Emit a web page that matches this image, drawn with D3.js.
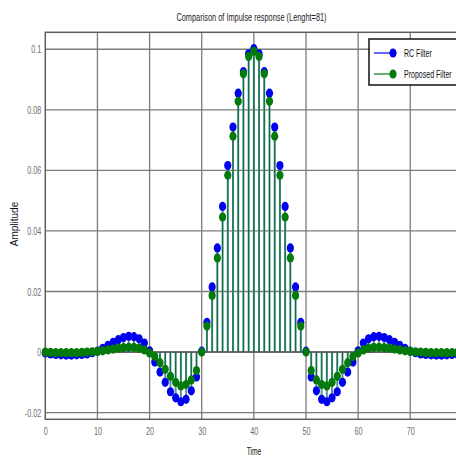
<!DOCTYPE html>
<html>
<head>
<meta charset="utf-8">
<script src="https://cdn.jsdelivr.net/npm/d3@7"></script>
<style>
  html, body { margin: 0; padding: 0; background: #fff; }
  svg { display: block; }
</style>
</head>
<body>
<svg id="chart" width="456" height="456"></svg>
<script>
// Sample index n = 0 .. 80 (filter length 81)
const samples = d3.range(0, 81);

// Raised-cosine filter impulse response
const rcFilter = [
  -0.0003, -0.0006, -0.0008, -0.0009, -0.0010, -0.0010, -0.0009, -0.0008, -0.0006, -0.0002,
   0.0003,  0.0012,  0.0022,  0.0032,  0.0041,  0.0048,  0.0052,  0.0051,  0.0044,  0.0030,
   0.0004, -0.0033, -0.0066, -0.0100, -0.0131, -0.0151, -0.0164, -0.0156, -0.0128, -0.0082,
   0.0003,  0.0098,  0.0215,  0.0344,  0.0481,  0.0616,  0.0743,  0.0855,  0.0926,  0.0985,
   0.1002,
   0.0985,  0.0926,  0.0855,  0.0743,  0.0616,  0.0481,  0.0344,  0.0215,  0.0098,  0.0003,
  -0.0082, -0.0128, -0.0156, -0.0164, -0.0151, -0.0131, -0.0100, -0.0066, -0.0033,  0.0004,
   0.0030,  0.0044,  0.0051,  0.0052,  0.0048,  0.0041,  0.0032,  0.0022,  0.0012,  0.0003,
  -0.0002, -0.0006, -0.0008, -0.0009, -0.0010, -0.0010, -0.0009, -0.0008, -0.0006, -0.0003
];

// Proposed filter impulse response
const proposedFilter = [
   0.0000, -0.0001, -0.0002, -0.0002, -0.0002, -0.0002, -0.0002, -0.0001,  0.0000,  0.0001,
   0.0002,  0.0004,  0.0007,  0.0010,  0.0013,  0.0015,  0.0016,  0.0016,  0.0013,  0.0007,
  -0.0003, -0.0015, -0.0035, -0.0057, -0.0080, -0.0100, -0.0112, -0.0107, -0.0092, -0.0061,
   0.0000,  0.0086,  0.0187,  0.0311,  0.0446,  0.0584,  0.0713,  0.0828,  0.0919,  0.0976,
   0.0993,
   0.0976,  0.0919,  0.0828,  0.0713,  0.0584,  0.0446,  0.0311,  0.0187,  0.0086,  0.0000,
  -0.0061, -0.0092, -0.0107, -0.0112, -0.0100, -0.0080, -0.0057, -0.0035, -0.0015, -0.0003,
   0.0007,  0.0013,  0.0016,  0.0016,  0.0015,  0.0013,  0.0010,  0.0007,  0.0004,  0.0002,
   0.0001,  0.0000, -0.0001, -0.0002, -0.0002, -0.0002, -0.0002, -0.0002, -0.0001,  0.0000
];

const xTicks = [0, 10, 20, 30, 40, 50, 60, 70];
const yTicks = [-0.02, 0, 0.02, 0.04, 0.06, 0.08, 0.1];
const seriesNames = ["RC Filter", "Proposed Filter"];

const titleText = "Comparison of Impulse response (Lenght=81)";
const xLabel = "Time";
const yLabel = "Amplitude";

const sans = "'Liberation Sans', Arial, sans-serif";

// Squeeze tick text horizontally to a condensed face
function condense(sel, factor) {
  sel.each(function () {
    const w = this.getComputedTextLength();
    d3.select(this).attr("textLength", (w * factor).toFixed(1))
      .attr("lengthAdjust", "spacingAndGlyphs");
  });
}

// Free-standing condensed label, anchored at (px, py)
function narrowText(parent, px, py, str, size, factor, anchor, color) {
  return parent.append("text")
    .attr("transform", `translate(${px},${py}) scale(${factor},1)`)
    .attr("text-anchor", anchor)
    .style("font-family", sans).style("font-size", size + "px")
    .attr("fill", color).text(str);
}

const svg = d3.select("#chart");
const plot = { left: 45.3, right: 462.4, top: 32.3, bottom: 419.3 };

const x = d3.scaleLinear().domain([0, 80]).range([plot.left, plot.right]);
const y = d3.scaleLinear().domain([-0.0222, 0.1056]).range([plot.bottom, plot.top]);

// Grid lines
const grid = svg.append("g");
grid.selectAll("line.gx").data(xTicks.filter(d => d > 0)).join("line")
  .attr("x1", d => x(d)).attr("x2", d => x(d))
  .attr("y1", plot.top).attr("y2", plot.bottom)
  .attr("stroke", "#7c7c7c").attr("stroke-width", 1.3);
grid.selectAll("line.gy").data(yTicks).join("line")
  .attr("x1", plot.left).attr("x2", plot.right)
  .attr("y1", d => y(d)).attr("y2", d => y(d))
  .attr("stroke", "#7c7c7c").attr("stroke-width", 1.3);

// Axes frame
svg.append("rect")
  .attr("x", plot.left).attr("y", plot.top)
  .attr("width", plot.right - plot.left).attr("height", plot.bottom - plot.top)
  .attr("fill", "none").attr("stroke", "#5e5e5e").attr("stroke-width", 1.5);

// Tick labels via d3 axes
const yAxis = svg.append("g")
  .attr("transform", `translate(${plot.left},0)`)
  .call(d3.axisLeft(y).tickValues(yTicks).tickSize(0).tickPadding(4)
        .tickFormat(d => String(+d.toFixed(2))));
const xAxis = svg.append("g")
  .attr("transform", `translate(0,${plot.bottom})`)
  .call(d3.axisBottom(x).tickValues(xTicks).tickSize(0).tickPadding(8)
        .tickFormat(d3.format("d")));
[yAxis, xAxis].forEach(a => {
  a.select(".domain").remove();
  a.selectAll("text").attr("fill", "#6e6e6e")
    .style("font-family", sans).style("font-size", "11px")
    .call(condense, 0.66);
});

// Stems
const stems = svg.append("g");
stems.selectAll("line.rc").data(samples).join("line")
  .attr("x1", d => x(d)).attr("x2", d => x(d))
  .attr("y1", y(0)).attr("y2", d => y(rcFilter[d]))
  .attr("stroke", "#5f929c").attr("stroke-width", 2);
stems.selectAll("line.pf").data(samples).join("line")
  .attr("x1", d => x(d)).attr("x2", d => x(d))
  .attr("y1", y(0)).attr("y2", d => y(proposedFilter[d]))
  .attr("stroke", "#06703a").attr("stroke-width", 1.1);

// Baseline
svg.append("line")
  .attr("x1", plot.left).attr("x2", plot.right)
  .attr("y1", y(0)).attr("y2", y(0))
  .attr("stroke", "#555").attr("stroke-width", 1.6);

// Markers
const marks = svg.append("g");
marks.selectAll("ellipse.rc").data(samples).join("ellipse")
  .attr("cx", d => x(d)).attr("cy", d => y(rcFilter[d]))
  .attr("rx", 3.6).attr("ry", 4.6).attr("fill", "#0000f0");
marks.selectAll("ellipse.pf").data(samples).join("ellipse")
  .attr("cx", d => x(d)).attr("cy", d => y(proposedFilter[d]))
  .attr("rx", 3.6).attr("ry", 4.6).attr("fill", "#047a0a");

// Title and axis labels
narrowText(svg, 251.5, 21, titleText, 11, 0.67, "middle", "#222");
narrowText(svg, 254, 455, xLabel, 11, 0.6, "middle", "#111");
svg.append("text").attr("transform", "translate(18,224) rotate(-90)")
  .attr("text-anchor", "middle")
  .style("font-family", sans).style("font-size", "10px").attr("fill", "#111")
  .text(yLabel);

// Legend
const legend = svg.append("g");
legend.append("rect").attr("x", 369).attr("y", 39).attr("width", 100).attr("height", 46)
  .attr("fill", "#fff").attr("stroke", "#111").attr("stroke-width", 1.5);
const legendColors = ["#0000f0", "#047a0a"];
seriesNames.forEach((name, i) => {
  const ly = 53 + i * 21;
  legend.append("line").attr("x1", 374).attr("x2", 393).attr("y1", ly).attr("y2", ly)
    .attr("stroke", legendColors[i]).attr("stroke-width", 1.2);
  legend.append("ellipse").attr("cx", 393).attr("cy", ly).attr("rx", 3.6).attr("ry", 4.6)
    .attr("fill", legendColors[i]);
  narrowText(legend, 404, ly + 4, name, 11, 0.64, "start", "#111");
});
</script>
</body>
</html>
